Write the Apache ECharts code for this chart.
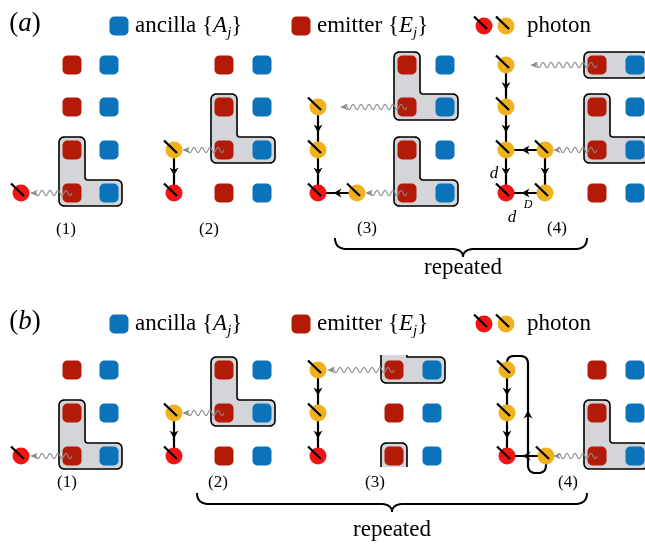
<!DOCTYPE html>
<html><head><meta charset="utf-8">
<script src="https://cdn.jsdelivr.net/npm/echarts@6/dist/echarts.min.js"></script>
<style>html,body{margin:0;padding:0;background:#fff}#c{width:645px;height:544px}</style>
</head><body><div id="c"></div>
<script>
// ---------- data (diagram coordinates) ----------
const emitters = [
  [72,65],[72,107],[72,150],[72,193],
  [224,65],[224,107],[224,150],[224,193],
  [407,65],[407,107],[407,150],[407,193],
  [597,65],[597,107],[597,150],[597,193],
  [72,370],[72,413],[72,456],
  [224,370],[224,413],[224,456],
  [394,370],[394,413],[394,456],
  [597,370],[597,413],[597,456]
];
const ancillas = [
  [109,65],[109,107],[109,150],[109,193],
  [262,65],[262,107],[262,150],[262,193],
  [445,65],[445,107],[445,150],[445,193],
  [635,65],[635,107],[635,150],[635,193],
  [109,370],[109,413],[109,456],
  [262,370],[262,413],[262,456],
  [432,370],[432,413],[432,456],
  [635,370],[635,413],[635,456]
];
const legendEmitters = [[301,26],[301,324]];
const legendAncillas = [[119,26],[119,324]];
const photonsRed = [[21,193],[174,193],[318,193],[506,193],[21,456],[174,456],[318,456],[507,456],[484,26],[484,324]];
const photonsYellow = [[174,150],[318,107],[318,150],[357,193],[506,65],[506,107],[506,150],[545,150],[545,193],
  [174,413],[318,370],[318,413],[507,370],[507,413],[546,456],[506,26],[506,324]];
// L-shaped registers: [emitterX, ancillaX, topRowY, bottomRowY]
const lShapes = [[72,109,150,193],[224,262,107,150],[407,445,65,107],[407,445,150,193],[597,635,107,150],
  [72,109,413,456],[224,262,370,413],[597,635,413,456]];
// horizontal register boxes: [emitterX, ancillaX, rowY]
const bars = [[597,635,65]];
// partially visible boxes (cut by the panel edge)
const cutBoxes = [
  [[381,355],[381,383],[445,383],[445,357],[407,357],[407,355]],
  [[381,467],[381,443],[407,443],[407,467]]
];
// emitted photons: [fromX, y, arrowTipX]
const waves = [[72,193,30],[224,150,182],[407,107,340],[407,193,365],[597,65,530],[597,150,553],
  [72,456,30],[224,413,182],[394,370,327],[597,456,553]];
// graph edges: [x1,y1,x2,y2]
const edges = [
  [174,150,174,193],
  [318,107,318,150],[318,150,318,193],[357,193,318,193],
  [506,65,506,107],[506,107,506,150],[506,150,506,193],[545,150,506,150],[545,150,545,193],[545,193,506,193],
  [174,413,174,456],
  [318,370,318,413],[318,413,318,456],
  [507,370,507,413],[507,413,507,456],[546,456,507,456]
];
const loopPath = [[546,456],[546,473],[528,473],[528,356],[507,356],[507,370]];
// braces: [x1, x2, tipX, topY, tipY]
const braces = [[335,587,463,238,257],[197,587,392,493,512]];
const panelTags = [['a',25,24],['b',25,322]];
const legendLabels = [['ancilla','A',135,26],['emitter','E',317,26],['ancilla','A',135,324],['emitter','E',317,324]];
const photonLabels = [['photon',527,26],['photon',527,324]];
const stepLabels = [['(1)',66,230],['(2)',209,230],['(3)',367,229],['(4)',557,229],
  ['(1)',67,483],['(2)',218,483],['(3)',375,483],['(4)',568,483]];
const repeatedLabels = [['repeated',463,268],['repeated',392,530]];
const distLabels = [['d',494,174],['D',528,205],['d',512,218]];

// ---------- styling ----------
const FONT = 'Liberation Serif';
const COL = {emit:'#B31A08', anc:'#0A73BA', pRed:'#F21313', pYel:'#F0B11C', box:'#D4D5D8', wave:'#8a8a8a'};
const H = 13;

function quad(s,b,e,n,out){for(let k=0;k<=n;k++){const t=k/n;out.push([(1-t)*(1-t)*s[0]+2*(1-t)*t*b[0]+t*t*e[0],(1-t)*(1-t)*s[1]+2*(1-t)*t*b[1]+t*t*e[1]]);}}
function roundPts(P,R,closed){
  const n=P.length,out=[];
  for(let i=0;i<n;i++){
    const b=P[i]; const r=R[i]||0;
    if(r<=0||(!closed&&(i===0||i===n-1))){out.push(b);continue;}
    const a=P[(i-1+n)%n], c=P[(i+1)%n];
    const l1=Math.hypot(b[0]-a[0],b[1]-a[1]), l2=Math.hypot(c[0]-b[0],c[1]-b[1]);
    const rr=Math.min(r,l1/2,l2/2);
    const s=[b[0]-(b[0]-a[0])/l1*rr, b[1]-(b[1]-a[1])/l1*rr];
    const e=[b[0]+(c[0]-b[0])/l2*rr, b[1]+(c[1]-b[1])/l2*rr];
    quad(s,b,e,8,out);
  }
  return out;
}
function arrowHead(m,u,len,w){
  const p=[-u[1],u[0]];
  const tip=[m[0]+u[0]*len/2,m[1]+u[1]*len/2];
  const back=[m[0]-u[0]*len/2,m[1]-u[1]*len/2];
  const notch=[m[0]-u[0]*len*0.2,m[1]-u[1]*len*0.2];
  return {type:'polygon',shape:{points:[tip,[back[0]+p[0]*w,back[1]+p[1]*w],notch,[back[0]-p[0]*w,back[1]-p[1]*w]]},style:{fill:'#000'}};
}

const chart = echarts.init(document.getElementById('c'));
const textBase = {show:true,color:'#000',fontFamily:FONT,opacity:1};
function txt(x,y,formatter,opt){
  return {value:[x,y],label:Object.assign({},textBase,{formatter:()=>formatter},opt)};
}
const textData = [];
panelTags.forEach(([t,x,y])=>textData.push(txt(x,y,'({i|'+t+'})',{position:'inside',fontSize:27,rich:{i:{fontStyle:'italic',fontSize:27,fontFamily:FONT,color:'#000'}}})));
legendLabels.forEach(([w,s,x,y])=>textData.push(txt(x,y,w+' {{i|'+s+'}{s|j}}',{position:'right',distance:0,fontSize:23,
  rich:{i:{fontStyle:'italic',fontSize:23,fontFamily:FONT,color:'#000'},s:{fontStyle:'italic',fontSize:15,fontFamily:FONT,color:'#000',verticalAlign:'bottom',lineHeight:29}}})));
photonLabels.forEach(([w,x,y])=>textData.push(txt(x,y,w,{position:'right',distance:0,fontSize:23})));
stepLabels.forEach(([w,x,y])=>textData.push(txt(x,y,w,{position:'inside',fontSize:17})));
repeatedLabels.forEach(([w,x,y])=>textData.push(txt(x,y,w,{position:'inside',fontSize:23})));
distLabels.forEach(([w,x,y])=>textData.push(txt(x,y,w,{position:'inside',fontSize:w==='D'?12:17,fontStyle:'italic'})));

const option = {
  animation:false,
  grid:{left:0,right:0,top:0,bottom:0},
  xAxis:{type:'value',min:0,max:645,show:false},
  yAxis:{type:'value',min:0,max:544,inverse:true,show:false},
  series:[
    {type:'custom',z:1,silent:true,data:lShapes,renderItem:(p,api)=>{
      const ex=api.value(0),ax=api.value(1),yT=api.value(2),yB=api.value(3);
      const pts=[[ex-H,yT-H],[ex+H,yT-H],[ex+H,yB-H],[ax+H,yB-H],[ax+H,yB+H],[ex-H,yB+H]].map(q=>api.coord(q));
      return {type:'polygon',shape:{points:roundPts(pts,[6,6,3,6,6,6],true)},style:{fill:COL.box,stroke:'#000',lineWidth:1.6}};
    }},
    {type:'custom',z:1,silent:true,data:bars,renderItem:(p,api)=>{
      const ex=api.value(0),ax=api.value(1),y=api.value(2);
      const pts=[[ex-H,y-H],[ax+H,y-H],[ax+H,y+H],[ex-H,y+H]].map(q=>api.coord(q));
      return {type:'polygon',shape:{points:roundPts(pts,[6,6,6,6],true)},style:{fill:COL.box,stroke:'#000',lineWidth:1.6}};
    }},
    {type:'custom',z:1,silent:true,data:cutBoxes.map((b,i)=>[i]),renderItem:(p,api)=>{
      const P=cutBoxes[p.dataIndex].map(q=>api.coord(q));
      const R=P.map((q,i)=>(i===0||i===P.length-1)?0:(P.length>4&&(i===4)?0:6));
      const pts=roundPts(P,R,false);
      return {type:'group',children:[
        {type:'polygon',shape:{points:pts},style:{fill:COL.box}},
        {type:'polyline',shape:{points:pts},style:{fill:null,stroke:'#000',lineWidth:1.6}}
      ]};
    }},
    {type:'scatter',z:2,silent:true,symbol:'roundRect',symbolSize:19,itemStyle:{color:COL.emit,opacity:1},data:emitters.concat(legendEmitters)},
    {type:'scatter',z:2,silent:true,symbol:'roundRect',symbolSize:19,itemStyle:{color:COL.anc,opacity:1},data:ancillas.concat(legendAncillas)},
    {type:'custom',z:3,silent:true,data:waves,renderItem:(p,api)=>{
      const s=api.coord([api.value(0),api.value(1)]);const t=api.coord([api.value(2),api.value(1)]);
      const y=s[1], x0=s[0], xt=t[0], base=xt+5;
      const pts=[];
      for(let x=x0;x>=base;x-=0.5){pts.push([x,y+2.6*Math.sin(2*Math.PI*(x0-x)/8)]);}
      return {type:'group',children:[
        {type:'polyline',shape:{points:pts},style:{fill:null,stroke:COL.wave,lineWidth:1.1}},
        {type:'polygon',shape:{points:[[xt,y],[xt+8,y-3.2],[xt+5.5,y],[xt+8,y+3.2]]},style:{fill:COL.wave}}
      ]};
    }},
    {type:'custom',z:4,silent:true,data:edges,renderItem:(p,api)=>{
      const a=api.coord([api.value(0),api.value(1)]),b=api.coord([api.value(2),api.value(3)]);
      const L=Math.hypot(b[0]-a[0],b[1]-a[1]);const u=[(b[0]-a[0])/L,(b[1]-a[1])/L];
      const m=[(a[0]+b[0])/2,(a[1]+b[1])/2];
      return {type:'group',children:[
        {type:'line',shape:{x1:a[0],y1:a[1],x2:b[0],y2:b[1]},style:{stroke:'#000',lineWidth:2.2}},
        arrowHead(m,u,8,4.5)
      ]};
    }},
    {type:'custom',z:4,silent:true,data:[[0]],renderItem:(p,api)=>{
      const P=loopPath.map(q=>api.coord(q));
      const pts=roundPts(P,P.map(()=>8),false);
      const a=P[2],b=P[3];const L=Math.hypot(b[0]-a[0],b[1]-a[1]);
      const u=[(b[0]-a[0])/L,(b[1]-a[1])/L];
      return {type:'group',children:[
        {type:'polyline',shape:{points:pts},style:{fill:null,stroke:'#000',lineWidth:2.2}},
        arrowHead([(a[0]+b[0])/2,(a[1]+b[1])/2],u,8,4.5)
      ]};
    }},
    {type:'custom',z:4,silent:true,data:braces,renderItem:(p,api)=>{
      const a=api.coord([api.value(0),api.value(3)]),b=api.coord([api.value(1),api.value(3)]);
      const t=api.coord([api.value(2),api.value(4)]);
      const yT=a[1], yTip=t[1], yM=yT+11, q=12, x1=a[0], x2=b[0], xt=t[0];
      const pts=[];
      quad([x1,yT],[x1,yM],[x1+q,yM],10,pts);
      quad([xt-q,yM],[xt,yM],[xt,yTip],10,pts);
      quad([xt,yTip],[xt,yM],[xt+q,yM],10,pts);
      quad([x2-q,yM],[x2,yM],[x2,yT],10,pts);
      return {type:'polyline',shape:{points:pts},style:{fill:null,stroke:'#000',lineWidth:2}};
    }},
    {type:'scatter',z:5,silent:true,symbol:'circle',symbolSize:17,itemStyle:{color:COL.pRed,opacity:1},data:photonsRed},
    {type:'scatter',z:5,silent:true,symbol:'circle',symbolSize:17,itemStyle:{color:COL.pYel,opacity:1},data:photonsYellow},
    {type:'custom',z:6,silent:true,data:photonsRed.concat(photonsYellow),renderItem:(p,api)=>{
      const c=api.coord([api.value(0),api.value(1)]);
      return {type:'line',shape:{x1:c[0]-10,y1:c[1]-9.5,x2:c[0]+3,y2:c[1]+3},style:{stroke:'#000',lineWidth:2.3}};
    }},
    {type:'scatter',z:7,silent:true,symbolSize:0,itemStyle:{opacity:1},data:textData}
  ]
};
chart.setOption(option);
</script></body></html>
